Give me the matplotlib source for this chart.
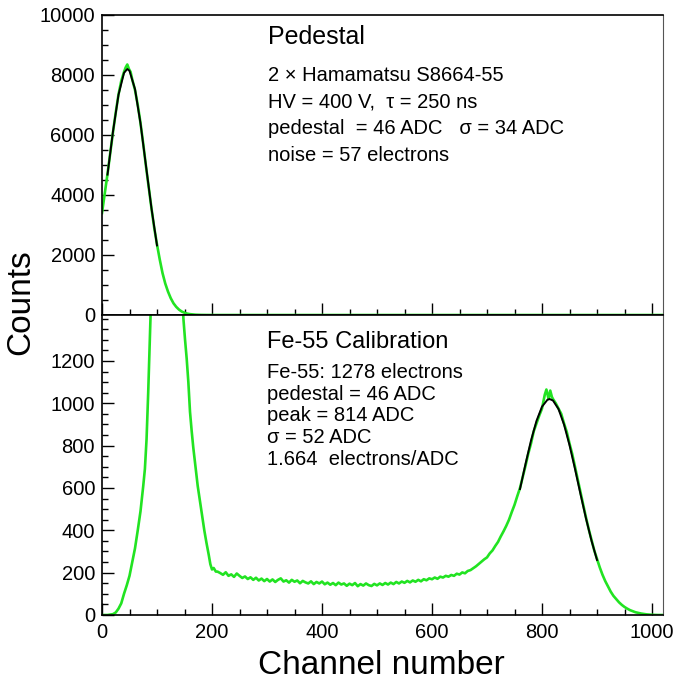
import matplotlib.pyplot as plt
from matplotlib.ticker import FixedLocator, MultipleLocator

plt.rcParams["font.family"] = ["Liberation Sans", "DejaVu Sans"]

# pedestal run (top panel)
ped_channel = [0, 5, 10, 15, 20, 25, 30, 35, 40, 43, 46, 49, 52, 55, 60, 65, 70, 75,
               80, 85, 90, 95, 100, 105, 110, 115, 120, 125, 130, 135, 140, 145,
               150, 155, 160, 170, 180, 190, 200, 1024]
ped_counts = [3400, 4050, 4700, 5400, 6100, 6750, 7350, 7800, 8100, 8250, 8350, 8200,
              8100, 7850, 7500, 7000, 6400, 5700, 4950, 4250, 3550, 2900, 2350, 1850,
              1400, 1050, 780, 560, 390, 270, 180, 115, 75, 45, 28, 10, 3, 1, 0, 0]
ped_fit_channel = [10, 20, 30, 40, 46, 50, 60, 70, 80, 90, 100]
ped_fit_counts = [4680, 6120, 7340, 8070, 8200, 8140, 7530, 6390, 4970, 3550, 2320]

# Fe-55 run (bottom panel)
fe_channel = [0, 10, 20, 25, 30, 35, 40, 45, 50, 55, 60, 65, 70, 75, 78, 81, 84, 87,
              90, 95, 100, 118, 140, 145, 148, 151, 154, 157, 160, 163, 166, 170,
              174, 178, 182, 186, 190, 194, 197, 200, 203, 207,
              210, 215, 220, 225, 230, 235, 240, 245, 250, 255, 260, 265, 270, 275,
              280, 285, 290, 295, 300, 305, 310, 315, 320, 325, 330, 335, 340, 345,
              350, 355, 360, 365, 370, 375, 380, 385, 390, 395, 400, 405, 410, 415,
              420, 425, 430, 435, 440, 445, 450, 455, 460, 465, 470, 475, 480, 485,
              490, 495, 500, 505, 510, 515, 520, 525, 530, 535, 540, 545, 550, 555,
              560, 565, 570, 575, 580, 585, 590, 595, 600, 605, 610, 615, 620, 625,
              630, 635, 640, 645, 650, 655, 660, 665, 670, 675, 680, 685, 690, 695,
              700, 705, 710, 715, 720, 725, 730, 735, 740, 745, 750, 755, 760, 765,
              770, 775, 780, 785, 790, 795, 800, 805, 808, 812, 815, 818, 820, 825,
              830, 835, 840, 845, 850, 855, 860, 865, 870, 875, 880, 885, 890, 895,
              900, 905, 910, 915, 920, 925, 930, 935, 940, 945, 950, 955, 960, 965,
              970, 975, 980, 985, 990, 995, 1000, 1010, 1024]
fe_counts = [0, 0, 4, 12, 30, 55, 100, 140, 185, 250, 315, 400, 490, 610, 690, 830, 1050, 1300,
             1560, 2100, 2800, 3600, 2400, 1600, 1400, 1300, 1210, 1100, 960, 870, 790, 700,
             610, 540, 470, 400, 340, 285, 240, 215, 222, 205,
             205, 198, 190, 202, 185, 192, 180, 196, 185, 175, 182, 170, 178, 166,
             176, 163, 172, 160, 170, 158, 168, 156, 166, 173, 158, 164, 153, 166,
             157, 163, 150, 161, 154, 149, 159, 146, 156, 149, 158, 145, 153, 143,
             151, 141, 153, 144, 149, 138, 148, 141, 151, 136, 146, 139, 149, 141,
             137, 147, 140, 149, 142, 151, 144, 153, 146, 156, 149, 158, 152, 161,
             154, 163, 157, 166, 159, 169, 164, 173, 169, 177, 171, 181, 177, 185,
             181, 189, 185, 195, 191, 201, 197, 208, 212, 221, 230, 241, 252, 263,
             272, 291, 305, 326, 345, 371, 395, 421, 450, 486, 520, 561, 600, 652,
             705, 762, 810, 868, 905, 942, 975, 1040, 1065, 1020, 1060, 1030, 1020, 1000,
             975, 950, 905, 865, 810, 760, 700, 640, 580, 520, 460, 405, 355, 305,
             265, 225, 190, 160, 135, 110, 90, 75, 60, 48, 38, 30, 23, 18,
             13, 10, 7, 5, 3, 2, 1, 0, 0]
fe_fit_channel = [760, 770, 780, 790, 800, 810, 814, 820, 830, 840, 850, 860, 870, 880, 890, 900]
fe_fit_counts = [595, 713, 824, 917, 984, 1017, 1020, 1013, 973, 900, 803, 690, 571, 456, 351, 260]

ped_lines = ["2 \u00d7 Hamamatsu S8664-55",
             "HV = 400 V,  \u03c4 = 250 ns",
             "pedestal  = 46 ADC   \u03c3 = 34 ADC",
             "noise = 57 electrons"]
fe_lines = ["Fe-55: 1278 electrons",
            "pedestal = 46 ADC",
            "peak = 814 ADC",
            "\u03c3 = 52 ADC",
            "1.664  electrons/ADC"]

GREEN = "#22e322"
W, H = 676, 687

fig = plt.figure(figsize=(W / 100, H / 100), dpi=100)
left = 102 / W
width = (663 - 102) / W
ax_top = fig.add_axes([left, (H - 315) / H, width, 300 / H])
ax_bot = fig.add_axes([left, (H - 615) / H, width, 300 / H])

ax_top.plot(ped_channel, ped_counts, color=GREEN, lw=1.9, zorder=2)
ax_top.plot(ped_fit_channel, ped_fit_counts, color="black", lw=1.4, zorder=3)
ax_bot.plot(fe_channel, fe_counts, color=GREEN, lw=1.9, zorder=2)
ax_bot.plot(fe_fit_channel, fe_fit_counts, color="black", lw=1.4, zorder=3)

ax_top.set_ylim(0, 10000)
ax_bot.set_ylim(0, 1417)
ax_top.yaxis.set_major_locator(MultipleLocator(2000))
ax_top.yaxis.set_minor_locator(MultipleLocator(500))
ax_bot.yaxis.set_major_locator(FixedLocator([0, 200, 400, 600, 800, 1000, 1200]))
ax_bot.yaxis.set_minor_locator(MultipleLocator(50))

for ax in (ax_top, ax_bot):
    ax.set_xlim(0, 1020)
    ax.xaxis.set_major_locator(MultipleLocator(200))
    ax.xaxis.set_minor_locator(MultipleLocator(50))
    ax.tick_params(which="both", direction="in", top=False, right=False,
                   labelsize=14.5, width=1.0)
    ax.tick_params(which="major", length=8.5)
    ax.tick_params(which="minor", length=4)
    ax.tick_params(axis="y", pad=5)
    ax.tick_params(axis="x", pad=6)
    for side in ("left", "bottom", "top"):
        ax.spines[side].set_linewidth(1.2)
    ax.spines["right"].set_linewidth(0.8)
    ax.spines["right"].set_color("#555555")

ax_top.tick_params(labelbottom=False)


def place(text, x_px, y_px, size):
    fig.text(x_px / W, 1 - y_px / H, text, fontsize=size, va="baseline", ha="left")


# annotation blocks
place("Pedestal", 268, 44, 18)
for i, line in enumerate(ped_lines):
    place(line, 268, 81 + 26.7 * i, 14.5)

place("Fe-55 Calibration", 267, 348, 17)
for i, line in enumerate(fe_lines):
    place(line, 267, 378 + 21.7 * i, 14.5)

fig.text(21 / W, 1 - 302 / H, "Counts", rotation=90, fontsize=24,
         ha="center", va="center")
fig.text(381 / W, 1 - 665 / H, "Channel number", fontsize=24,
         ha="center", va="center")

fig.savefig("out.png", dpi=100)
